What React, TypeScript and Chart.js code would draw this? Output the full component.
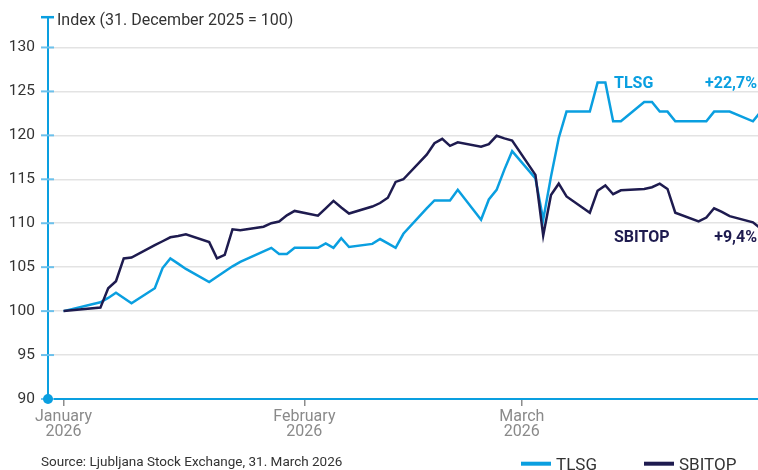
import React, { useEffect, useRef } from "react";
import { Chart, registerables } from "chart.js";

Chart.register(...registerables);

// Index base (31 Dec 2025 = 100) followed by trading days
const DATES = [
  "2025-12-31",
  "2026-01-05", "2026-01-06", "2026-01-07", "2026-01-08", "2026-01-09",
  "2026-01-12", "2026-01-13", "2026-01-14", "2026-01-15", "2026-01-16",
  "2026-01-19", "2026-01-20", "2026-01-21", "2026-01-22", "2026-01-23",
  "2026-01-26", "2026-01-27", "2026-01-28", "2026-01-29", "2026-01-30",
  "2026-02-02", "2026-02-03", "2026-02-04", "2026-02-05", "2026-02-06",
  "2026-02-09", "2026-02-10", "2026-02-11", "2026-02-12", "2026-02-13",
  "2026-02-16", "2026-02-17", "2026-02-18", "2026-02-19", "2026-02-20",
  "2026-02-23", "2026-02-24", "2026-02-25", "2026-02-26", "2026-02-27",
  "2026-03-02", "2026-03-03", "2026-03-04", "2026-03-05", "2026-03-06",
  "2026-03-09", "2026-03-10", "2026-03-11", "2026-03-12", "2026-03-13",
  "2026-03-16", "2026-03-17", "2026-03-18", "2026-03-19", "2026-03-20",
  "2026-03-23", "2026-03-24", "2026-03-25", "2026-03-26", "2026-03-27",
  "2026-03-30", "2026-03-31",
];

const TLSG = [
  100.0,
  101.0, 101.5, 102.1, 101.5, 100.9,
  102.6, 104.9, 106.0, 105.4, 104.8,
  103.3, 103.9, 104.5, 105.1, 105.6,
  106.8, 107.2, 106.5, 106.5, 107.2,
  107.2, 107.7, 107.2, 108.3, 107.3,
  107.65, 108.2, 107.7, 107.2, 108.8,
  111.7, 112.6, 112.6, 112.6, 113.8,
  110.4, 112.7, 113.8, 116.1, 118.2,
  115.1, 110.4, 115.3, 119.7, 122.7,
  122.7, 126.0, 126.0, 121.6, 121.6,
  123.8, 123.8, 122.7, 122.7, 121.6,
  121.6, 121.6, 122.7, 122.7, 122.7,
  121.6, 122.7,
];

const SBITOP = [
  100.0,
  100.4, 102.6, 103.4, 106.0, 106.1,
  107.5, 107.95, 108.4, 108.55, 108.75,
  107.85, 106.0, 106.4, 109.3, 109.2,
  109.6, 110.0, 110.2, 110.9, 111.4,
  110.85, 111.7, 112.55, 111.8, 111.1,
  111.9, 112.3, 112.9, 114.7, 115.0,
  117.8, 119.1, 119.6, 118.8, 119.2,
  118.7, 119.0, 119.95, 119.65, 119.4,
  115.5, 108.6, 113.2, 114.5, 113.05,
  111.2, 113.7, 114.3, 113.3, 113.75,
  113.9, 114.1, 114.5, 113.9, 111.2,
  110.2, 110.65, 111.7, 111.3, 110.8,
  110.1, 109.4,
];

const Y_TICKS = [90, 95, 100, 105, 110, 115, 120, 125, 130];
const MONTH_TICK_DATES = ["2026-01-01", "2026-02-01", "2026-03-01"];
const MONTH_TICK_LABELS = [
  ["January", "2026"],
  ["February", "2026"],
  ["March", "2026"],
];

const SERIES_NAMES = ["TLSG", "SBITOP"];
const SERIES_CHANGES = ["+22,7%", "+9,4%"];

const TITLE = "Index (31. December 2025 = 100)";
const SOURCE = "Source: Ljubljana Stock Exchange, 31. March 2026";

const BLUE = "#0a9fe0";
const NAVY = "#1e1b4f";
const TICK_BLUE = "#6cc1ec";
const GRID = "#e3e3e3";
const FONT = "Roboto";

function dayOf(iso: string): number {
  const [y, m, d] = iso.split("-").map(Number);
  return (Date.UTC(y, m - 1, d) - Date.UTC(2026, 0, 1)) / 86400000;
}

// base value sits at the end of 31 Dec; trading values at closing time (~18:00)
function xOf(iso: string, i: number): number {
  return i === 0 ? dayOf(iso) + 1 : dayOf(iso) + 0.75;
}

export default function App() {
  const ref = useRef<HTMLCanvasElement | null>(null);

  useEffect(() => {
    if (!ref.current) return;
    const toPoints = (vals: number[]) =>
      vals.map((v, i) => ({ x: xOf(DATES[i], i), y: v }));

    const overlay = {
      id: "overlay",
      afterDraw(chart: any) {
        const ctx = chart.ctx;
        const { left, right, top, bottom } = chart.chartArea;
        const ys = chart.scales.y;
        ctx.save();
        // y tick marks crossing the axis
        ctx.strokeStyle = TICK_BLUE;
        ctx.lineWidth = 2;
        Y_TICKS.forEach((v) => {
          const py = ys.getPixelForValue(v);
          ctx.beginPath();
          ctx.moveTo(left - 7, py);
          ctx.lineTo(left + 6, py);
          ctx.stroke();
        });
        // top cap
        ctx.strokeStyle = BLUE;
        ctx.lineWidth = 2.5;
        ctx.beginPath();
        ctx.moveTo(left - 7, top + 0.5);
        ctx.lineTo(left + 6, top + 0.5);
        ctx.stroke();
        // origin dot
        ctx.fillStyle = BLUE;
        ctx.beginPath();
        ctx.arc(left, bottom, 5, 0, Math.PI * 2);
        ctx.fill();
        // title
        ctx.fillStyle = "#333333";
        ctx.font = `16px ${FONT}`;
        ctx.textAlign = "left";
        ctx.textBaseline = "alphabetic";
        ctx.fillText(TITLE, left + 9, 25);
        // series annotations
        ctx.font = `bold 16px ${FONT}`;
        const annY = [88, 242];
        const colors = [BLUE, NAVY];
        SERIES_NAMES.forEach((n, i) => {
          ctx.fillStyle = colors[i];
          ctx.textAlign = "left";
          ctx.fillText(n, 614, annY[i]);
          ctx.textAlign = "right";
          ctx.fillText(SERIES_CHANGES[i], right - 1, annY[i]);
        });
        // source
        ctx.fillStyle = "#333333";
        ctx.font = `13.5px ${FONT}`;
        ctx.textAlign = "left";
        ctx.fillText(SOURCE, 41, 466);
        // legend
        const legX = [521, 644];
        ctx.font = `17px ${FONT}`;
        SERIES_NAMES.forEach((n, i) => {
          ctx.strokeStyle = colors[i];
          ctx.lineWidth = 4;
          ctx.beginPath();
          ctx.moveTo(legX[i], 463.7);
          ctx.lineTo(legX[i] + 30, 463.7);
          ctx.stroke();
          ctx.fillStyle = "#333333";
          ctx.textAlign = "left";
          ctx.fillText(n, legX[i] + 35, 469.5);
        });
        ctx.restore();
      },
    };

    const chart = new Chart(ref.current, {
      type: "line",
      data: {
        datasets: [
          {
            label: SERIES_NAMES[1],
            data: toPoints(SBITOP),
            borderColor: NAVY,
            borderWidth: 2.5,
            pointRadius: 0,
            tension: 0,
            order: 0,
          },
          {
            label: SERIES_NAMES[0],
            data: toPoints(TLSG),
            borderColor: BLUE,
            borderWidth: 2.5,
            pointRadius: 0,
            tension: 0,
            order: 1,
          },
        ],
      },
      options: {
        animation: false,
        responsive: false,
        devicePixelRatio: 1,
        layout: { padding: { top: 16.7, right: 0, left: 0, bottom: 0 } },
        plugins: {
          legend: { display: false },
          tooltip: { enabled: false },
          title: { display: false },
        },
        scales: {
          x: {
            type: "linear",
            min: -2.0,
            max: 89.4,
            afterBuildTicks: (scale: any) => {
              scale.ticks = MONTH_TICK_DATES.map((d) => ({ value: dayOf(d) }));
            },
            afterFit: (scale: any) => {
              scale.height = 71;
            },
            grid: {
              drawOnChartArea: false,
              drawTicks: true,
              tickLength: 7,
              color: "#8c8c8c",
              lineWidth: 1.5,
            },
            border: { display: true, color: BLUE, width: 2 },
            ticks: {
              autoSkip: false,
              maxRotation: 0,
              padding: 3,
              color: "#8a8a8a",
              font: { family: FONT, size: 16, lineHeight: 0.97 },
              callback: (_v: any, i: number) => MONTH_TICK_LABELS[i],
            },
          },
          y: {
            type: "linear",
            min: 90,
            max: 133.5,
            afterBuildTicks: (scale: any) => {
              scale.ticks = Y_TICKS.map((v) => ({ value: v }));
            },
            afterFit: (scale: any) => {
              scale.width = 48;
            },
            grid: {
              drawTicks: false,
              color: GRID,
              lineWidth: 1.5,
            },
            border: { display: true, color: BLUE, width: 2 },
            ticks: {
              padding: 13,
              color: "#333333",
              font: { family: FONT, size: 15.5, lineHeight: 0.2 },
              callback: (v: any) => String(v),
            },
          },
        },
      },
      plugins: [overlay],
    } as any);

    return () => chart.destroy();
  }, []);

  return (
    <div style={{ position: "fixed", left: 0, top: 0, width: 758, height: 470 }}>
      <canvas ref={ref} width={758} height={470} style={{ display: "block" }} />
    </div>
  );
}
